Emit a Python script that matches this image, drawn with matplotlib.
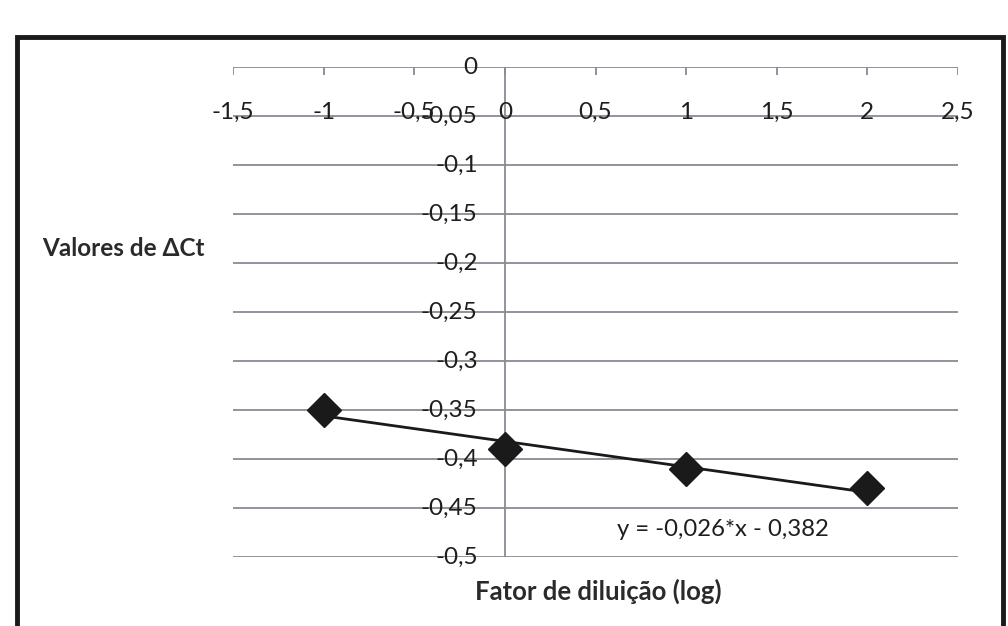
import matplotlib
matplotlib.use('Agg')
from matplotlib import pyplot as plt
from matplotlib.patches import Rectangle

plt.rcParams['font.family'] = ['Lato', 'DejaVu Sans']

# data
diluicao = [-1, 0, 1, 2]                  # fator de diluicao (log)
delta_ct = [-0.35, -0.39, -0.41, -0.43]   # valores de delta Ct
x_ticks = [-1.5, -1, -0.5, 0, 0.5, 1, 1.5, 2, 2.5]
x_tick_labels = ['-1,5', '-1', '-0,5', '0', '0,5', '1', '1,5', '2', '2,5']
y_ticks = [0, -0.05, -0.1, -0.15, -0.2, -0.25, -0.3, -0.35, -0.4, -0.45, -0.5]
y_tick_labels = ['0', '-0,05', '-0,1', '-0,15', '-0,2', '-0,25', '-0,3',
                 '-0,35', '-0,4', '-0,45', '-0,5']

W, H = 1008, 626
fig = plt.figure(figsize=(W / 100, H / 100), dpi=100)
fig.patch.set_facecolor('white')

# outer frame of the chart (cut at the bottom like the scan)
fig.patches.append(Rectangle((17 / W, -0.05), (1003 - 17) / W, 1.05 - 37 / H,
                             transform=fig.transFigure, fill=False,
                             edgecolor='#1a1a1a', linewidth=3.5))

ax = fig.add_axes([233 / W, 1 - 557 / H, (958 - 233) / W, (557 - 67) / H])
ax.set_xlim(-1.5, 2.5)
ax.set_ylim(-0.5, 0)
ax.axis('off')

grid_c = '#8a8a96'
# horizontal gridlines
ax.hlines(y_ticks[1:], -1.5, 2.5, color=grid_c, linewidth=1.3, zorder=1)
# x axis at y=0 with ticks pointing down
ax.hlines(0, -1.5, 2.5, color=grid_c, linewidth=1.3, zorder=1)
ax.vlines(x_ticks, -0.008, 0, color=grid_c, linewidth=1.3, zorder=1)
# y axis at x=0
ax.vlines(0, -0.5, 0, color=grid_c, linewidth=1.3, zorder=1)

# tick labels
txt_c = '#1e1e1e'
for x, lab in zip(x_ticks, x_tick_labels):
    ax.text(x, -0.046, lab, ha='center', va='center', fontsize=17.5, color=txt_c)
for y, lab in zip(y_ticks, y_tick_labels):
    ax.text(-0.15, y, lab, ha='right', va='center', fontsize=17.5, color=txt_c)

# linear fit
n = len(diluicao)
mx = sum(diluicao) / n
my = sum(delta_ct) / n
slope = sum((a - mx) * (b - my) for a, b in zip(diluicao, delta_ct)) / \
    sum((a - mx) ** 2 for a in diluicao)
intercept = my - slope * mx
fit_x = [min(diluicao), max(diluicao)]
fit_y = [slope * v + intercept for v in fit_x]
ax.plot(fit_x, fit_y, color='#1a1a1a', linewidth=2, zorder=2)

ax.plot(diluicao, delta_ct, 'D', color='#1a1a1a', markersize=17, zorder=3)

eq = 'y = %.3f*x - %.3f' % (slope, abs(intercept))
ax.text(0.62, -0.472, eq.replace('.', ','), ha='left', va='center',
        fontsize=17.2, color=txt_c)

fig.text(42 / W, 1 - 248 / H, 'Valores de \u0394Ct', ha='left', va='center',
         fontsize=17.5, fontweight='bold', color='#2a2a2a')
fig.text(598 / W, 1 - 591 / H, 'Fator de dilui\u00e7\u00e3o (log)', ha='center',
         va='center', fontsize=18.5, fontweight='bold', color='#2a2a2a')

fig.savefig('out.png', dpi=100, facecolor='white')
